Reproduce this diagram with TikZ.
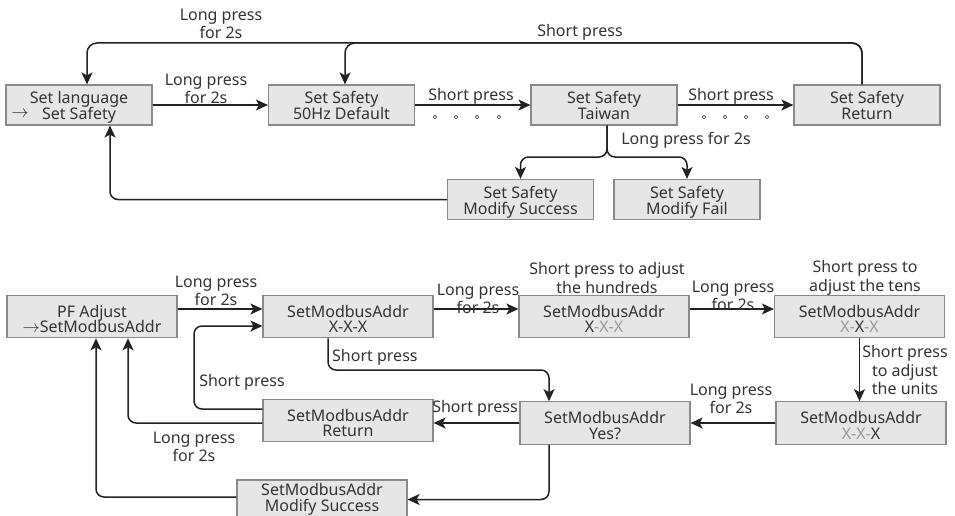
\documentclass[tikz,border=0pt]{standalone}
\usepackage{fontspec}
\setmainfont{Noto Sans}
\usetikzlibrary{arrows.meta,calc}
\setlength{\lineskiplimit}{-100pt}
\definecolor{boxfill}{HTML}{E6E6E6}
\definecolor{boxline}{HTML}{8A8A8A}
\definecolor{txt}{HTML}{333333}
\definecolor{dim}{HTML}{999999}
\definecolor{wire}{HTML}{222222}
% two-line box text with fixed baselines: #1 = strut height of first line
\newcommand{\twol}[3]{\rule{0pt}{#1}#2\\#3\rule[-5pt]{0pt}{5pt}}
\tikzset{
  sbox/.style={draw=boxline, fill=boxfill, line width=1.2pt, minimum width=146pt, minimum height=38pt,
    inner sep=0pt, align=center, text=txt, font=\fontsize{16}{16}\selectfont},
  mbox/.style={sbox, minimum width=170pt, minimum height=39pt, font=\fontsize{16}{15.5}\selectfont},
  lbl/.style={align=center, text=txt, inner sep=0pt, font=\fontsize{16}{18.5}\selectfont},
  arr/.style={draw=wire, line width=1.5pt, rounded corners=8pt, -{Stealth[length=12pt,width=11pt,inset=3pt]}},
  dotc/.style={draw=txt, line width=0.6pt, circle, inner sep=0pt, minimum size=3.5pt}
}
\begin{document}
\begin{tikzpicture}[x=1pt,y=-1pt]
\useasboundingbox (0,0) rectangle (955,516);
% ---------- top section ----------
\node[sbox] (A) at (79,105) {\twol{19pt}{Set language}{Set Safety}};
\node[text=txt, inner sep=0pt, font=\fontsize{16}{16}\selectfont] (Aarr) at (20,114) {$\rightarrow$};
\node[sbox] (B) at (341.5,105) {\twol{19pt}{Set Safety}{50Hz Default}};
\node[sbox] (C) at (604,105) {\twol{19pt}{Set Safety}{Taiwan}};
\node[sbox] (D) at (867,105) {\twol{19pt}{Set Safety}{Return}};
\node[sbox] (E) at (520.5,199.5) {\twol{19pt}{Set Safety}{Modify Success}};
\node[sbox] (F) at (687,199.5) {\twol{19pt}{Set Safety}{Modify Fail}};

\draw[arr] (A) -- (B);
\draw[arr] (B) -- (C);
\draw[arr] (C) -- (D);
\node[lbl] (lAB) at (206,89) {Long press\\for 2s};
\node[lbl] (lBC) at (471,96) {Short press};
\node[lbl] (lCD) at (731,96) {Short press};
\foreach \x [count=\i] in {435,456,477,499} \node[dotc] (dl\i) at (\x,117) {};
\foreach \x [count=\i] in {704,725,746,767} \node[dotc] (dr\i) at (\x,117) {};

\coordinate (tD) at (862,43);
\draw[arr, rounded corners=10pt] ($(D.north)+(-5,0)$) -- (tD) -| ($(B.north)+(3.5,0)$);
\draw[arr, rounded corners=10pt] ($(D.north)+(-5,0)$) -- (tD) -| ($(A.north)+(8,0)$);
\node[lbl] (lDA) at (221,24) {Long press\\for 2s};
\node[lbl] (lDB) at (580,32) {Short press};

\coordinate (cC) at (607,157);
\draw[arr] ($(C.south)+(3,0)$) -- (cC) -| (E.north);
\draw[arr] ($(C.south)+(3,0)$) -- (cC) -| (F.north);
\node[lbl] (lCE) at (686,140) {Long press for 2s};
\draw[arr] (E.west) -| ($(A.south)+(31,0)$);

% ---------- bottom section ----------
\node[mbox] (G) at (92,316.5) {\twol{22pt}{PF Adjust}{$\rightarrow$SetModbusAddr}};
\node[mbox] (H) at (348,316.5) {\twol{22pt}{SetModbusAddr}{X-X-X}};
\node[mbox] (I) at (604,316.5) {\twol{22pt}{SetModbusAddr}{X\textcolor{dim}{-X-X}}};
\node[mbox] (J) at (859.5,316.5) {\twol{22pt}{SetModbusAddr}{\textcolor{dim}{X-}X\textcolor{dim}{-X}}};
\node[mbox] (K) at (861,423) {\twol{22pt}{SetModbusAddr}{\textcolor{dim}{X-X-}X}};
\node[mbox] (L) at (605,423) {\twol{22pt}{SetModbusAddr}{Yes?}};
\node[mbox] (M) at (348,420.5) {\twol{22pt}{SetModbusAddr}{Return}};
\node[mbox] (N) at (322,499.5) {\twol{13pt}{SetModbusAddr}{Modify Success}};

\draw[arr] ($(G.east)+(0,-7.5)$) -- ($(H.west)+(0,-7.5)$);
\node[lbl] (lGH) at (216,291) {Long press\\for 2s};
\draw[arr] ($(H.east)+(0,-7.5)$) -- ($(I.west)+(0,-7.5)$);
\node[lbl] (lHI) at (478,299) {Long press\\for 2s};
\draw[arr] ($(I.east)+(0,-7.5)$) -- ($(J.west)+(0,-7.5)$);
\node[lbl] (lIJ) at (733,296) {Long press\\for 2s};
\node[lbl] (lI) at (607,278) {Short press to adjust\\the hundreds};
\node[lbl] (lJ) at (865,278) {Short press to\\adjust the tens};
\draw[arr] (J.south) -- (J.south |- K.north);
\node[lbl] (lJK) at (905,370) {Short press\\to adjust\\the units};
\draw[arr] (K.west) -- (L.east);
\node[lbl] (lKL) at (731,399) {Long press\\for 2s};
\draw[arr] (L.west) -- (L.west -| M.east);
\node[lbl] (lLM) at (475,408) {Short press};

\coordinate (hL) at (549,370);
\draw[arr] ($(H.south)+(-20,0)$) |- (hL) -- ($(L.north)+(-56,0)$);
\node[lbl, anchor=west] (lHL) at (332,357) {Short press};
\draw[arr] ($(L.south)+(-56,0)$) |- (N.east);

\coordinate (mH) at (194,326);
\draw[arr] ($(M.west)+(0,-11.5)$) -| (mH) -- ($(H.west)+(0,9.5)$);
\node[lbl] (lMH) at (242,382) {Short press};
\draw[arr] ($(M.west)+(0,2.5)$) -| ($(G.south)+(36,0)$);
\node[lbl] (lMG) at (194,447) {Long press\\for 2s};
\draw[arr] ($(N.west)+(0,-2.5)$) -| ($(G.south)+(4,0)$);
\end{tikzpicture}
\end{document}
